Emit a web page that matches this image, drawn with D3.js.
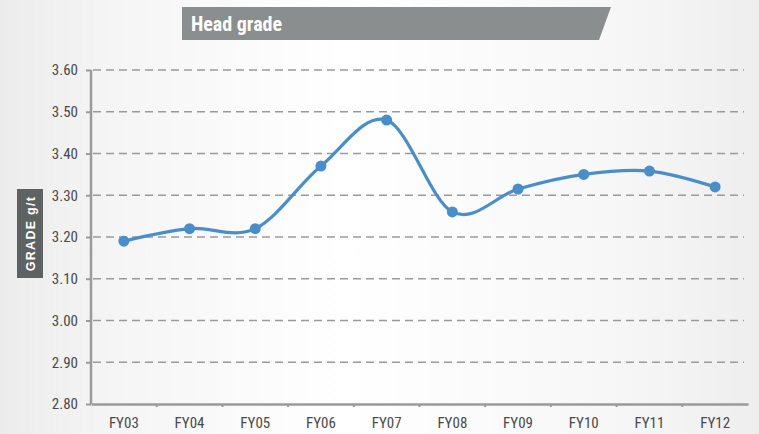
<!DOCTYPE html>
<html>
<head>
<meta charset="utf-8">
<script src="https://cdn.jsdelivr.net/npm/d3@7"></script>
<style>
  body { margin: 0; background: #f0f0f0; }
  svg { display: block; }
  .narrow { font-family: "Liberation Sans Narrow", "Arial Narrow", "Roboto Condensed", "Liberation Sans", sans-serif; }
</style>
</head>
<body>
<div id="chart"></div>
<script>
// data
const years = ["FY03", "FY04", "FY05", "FY06", "FY07", "FY08", "FY09", "FY10", "FY11", "FY12"];
const grade = [3.19, 3.22, 3.22, 3.37, 3.48, 3.26, 3.315, 3.35, 3.358, 3.32];
const yTicks = [2.80, 2.90, 3.00, 3.10, 3.20, 3.30, 3.40, 3.50, 3.60];

const W = 759, H = 434;
const margin = { top: 70, right: 11, bottom: 30, left: 91 };
const width = W - margin.left - margin.right;
const height = H - margin.top - margin.bottom;

const svg = d3.select("#chart").append("svg")
  .attr("width", W)
  .attr("height", H);

// soft background, whiter in the middle
const grad = svg.append("defs").append("linearGradient")
  .attr("id", "bg").attr("x1", 0).attr("x2", 1).attr("y1", 0).attr("y2", 0);
grad.append("stop").attr("offset", "0%").attr("stop-color", "#ececec");
grad.append("stop").attr("offset", "15%").attr("stop-color", "#f5f5f5");
grad.append("stop").attr("offset", "45%").attr("stop-color", "#ffffff");
grad.append("stop").attr("offset", "80%").attr("stop-color", "#f7f7f7");
grad.append("stop").attr("offset", "100%").attr("stop-color", "#eeeeee");
svg.append("rect").attr("width", W).attr("height", H).attr("fill", "url(#bg)");

// title banner
svg.append("path")
  .attr("d", "M182,7 L611,7 L599,40 L182,40 Z")
  .attr("fill", "#8b8e8e");
svg.append("text")
  .attr("class", "narrow")
  .attr("x", 191)
  .attr("y", 31)
  .attr("fill", "#ffffff")
  .style("font-size", "20px")
  .style("font-weight", "bold")
  .text("Head grade");

const chart = svg.append("g")
  .attr("transform", `translate(${margin.left},${margin.top})`);

const x = d3.scaleBand().domain(years).range([0, width]);
const y = d3.scaleLinear().domain([2.8, 3.6]).range([height, 0]);

// gridlines
chart.selectAll(".grid")
  .data(yTicks.filter(d => d > 2.8))
  .join("line")
  .attr("class", "grid")
  .attr("x1", 2).attr("x2", width - 4)
  .attr("y1", d => y(d)).attr("y2", d => y(d))
  .attr("stroke", "#9a9a9a")
  .attr("stroke-width", 1.5)
  .attr("stroke-dasharray", "8,5");

// y axis
const yAxis = chart.append("g")
  .call(d3.axisLeft(y).tickValues(yTicks).tickFormat(d3.format(".2f")).tickSize(5).tickPadding(8));
yAxis.select(".domain").attr("stroke", "#9a9a9a").attr("stroke-width", 2.5).attr("d", `M0,0V${height}`);
yAxis.selectAll(".tick line").attr("stroke", "#9a9a9a").attr("stroke-width", 2);
yAxis.selectAll(".tick text")
  .attr("class", "narrow")
  .attr("fill", "#4a4a4a")
  .style("font-weight", "normal")
  .style("font-size", "15px");

// x axis
const xAxis = chart.append("g")
  .attr("transform", `translate(0,${height})`)
  .call(d3.axisBottom(x).tickSize(0).tickPadding(13));
xAxis.select(".domain").attr("stroke", "#9a9a9a").attr("stroke-width", 2.5);
xAxis.selectAll(".tick text")
  .attr("class", "narrow")
  .attr("fill", "#4a4a4a")
  .style("font-weight", "normal")
  .style("font-size", "15px");
// small ticks at band boundaries
chart.append("g").selectAll("line")
  .data(years.slice(1))
  .join("line")
  .attr("x1", d => x(d)).attr("x2", d => x(d))
  .attr("y1", height).attr("y2", height + 3)
  .attr("stroke", "#9a9a9a").attr("stroke-width", 2);

// y axis title box
svg.append("rect")
  .attr("x", 17).attr("y", 189)
  .attr("width", 26).attr("height", 89)
  .attr("fill", "#5f6262");
svg.append("text")
  .attr("transform", "translate(35,233.5) rotate(-90)")
  .attr("text-anchor", "middle")
  .attr("fill", "#ffffff")
  .style("font-family", "'Liberation Sans', Arial, sans-serif")
  .style("font-size", "12.5px")
  .style("font-weight", "bold")
  .style("letter-spacing", "1.3px")
  .text("GRADE g/t");

// line + points
const cx = d => x(d) + x.bandwidth() / 2;
const line = d3.line()
  .x((d, i) => cx(years[i]))
  .y(d => y(d))
  .curve(d3.curveCardinal.tension(0));

chart.append("path")
  .datum(grade)
  .attr("fill", "none")
  .attr("stroke", "#4a8ec9")
  .attr("stroke-width", 3.2)
  .attr("d", line);

chart.selectAll(".pt")
  .data(grade)
  .join("circle")
  .attr("class", "pt")
  .attr("cx", (d, i) => cx(years[i]))
  .attr("cy", d => y(d))
  .attr("r", 5.5)
  .attr("fill", "#4a8ec9");
</script>
</body>
</html>
